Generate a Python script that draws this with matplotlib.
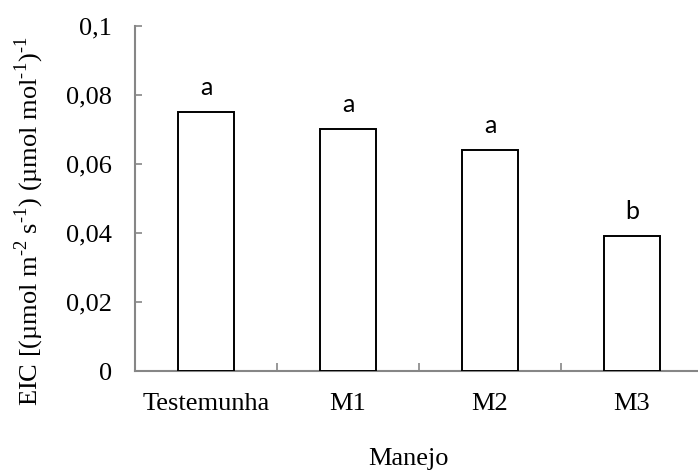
import matplotlib
matplotlib.use('Agg')
import matplotlib.pyplot as plt
from matplotlib.ticker import FuncFormatter, MultipleLocator, FixedLocator

categories = ['Testemunha', 'M1', 'M2', 'M3']
eic = [0.075, 0.070, 0.064, 0.039]
letters = ['a', 'a', 'a', 'b']

plt.rcParams['font.family'] = 'Liberation Serif'
plt.rcParams['mathtext.fontset'] = 'custom'
plt.rcParams['mathtext.rm'] = 'Liberation Serif'

fig = plt.figure(figsize=(6.98, 4.72), dpi=100)
ax = fig.add_axes([135 / 698, 1 - 371 / 472, 568 / 698, 345 / 472])

x = range(len(categories))
ax.bar(x, eic, width=0.4, color='white', edgecolor='black', linewidth=1.4, zorder=3)
for xi, v, l in zip(x, eic, letters):
    ax.annotate(l, (xi, v), xytext=(0, 12.5), textcoords='offset points',
                ha='center', va='baseline', fontsize=18, family='Lato')

ax.set_xlim(-0.5, 3.5)
ax.set_ylim(0, 0.1)
ax.yaxis.set_major_locator(MultipleLocator(0.02))
ax.yaxis.set_major_formatter(FuncFormatter(lambda v, p: '{:g}'.format(round(v, 4)).replace('.', ',')))
ax.set_xticks(list(x))
ax.set_xticklabels(categories)
ax.xaxis.set_minor_locator(FixedLocator([0.5, 1.5, 2.5]))

gray = '#868686'
for s in ['top', 'right']:
    ax.spines[s].set_visible(False)
for s in ['left', 'bottom']:
    ax.spines[s].set_color(gray)
    ax.spines[s].set_linewidth(1.5)

ax.tick_params(axis='y', direction='in', length=5, width=1.2, color=gray, pad=16.5, labelsize=19)
ax.tick_params(axis='x', which='major', length=0, pad=16, labelsize=19)
ax.tick_params(axis='x', which='minor', direction='in', length=6, width=1.2, color=gray)

ax.set_ylabel(r'EIC [(µmol m$^{\text{-2}}$ s$^{\text{-1}}$) (µmol mol$^{\text{-1}}$)$^{\text{-1}}$',
              fontsize=19)
ax.yaxis.set_label_coords(-0.157, 0.433)
ax.set_xlabel('Manejo', fontsize=19)
ax.xaxis.set_label_coords(0.481, -0.222)

fig.savefig('out.png', dpi=100)
